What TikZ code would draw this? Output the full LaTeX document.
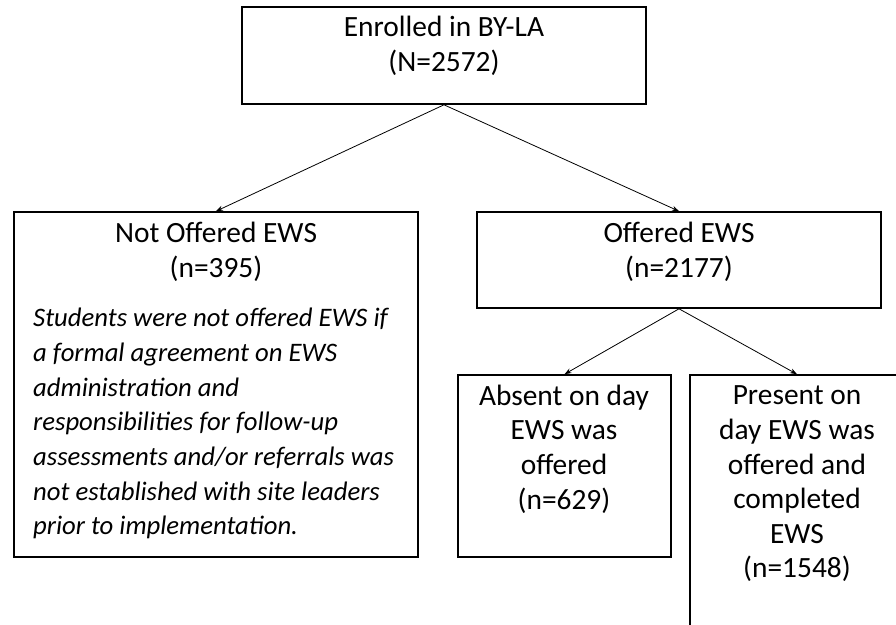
\documentclass[tikz,border=0pt]{standalone}
\usepackage{fontspec}
\setmainfont{Carlito}
\usetikzlibrary{arrows.meta}
\begin{document}
\begin{tikzpicture}[x=1pt,y=-1pt,
  box/.style={draw, line width=1.6pt, rectangle, inner sep=0pt},
  lbl/.style={align=center, font=\fontsize{29.4}{34.6}\selectfont, inner sep=0pt},
  desc/.style={align=left, font=\fontsize{26.7}{34.7}\selectfont\itshape, inner sep=0pt},
  conn/.style={-{Stealth[length=7pt,width=5pt]}, line width=0.8pt}]
\useasboundingbox (0,0) rectangle (896,624);
\clip (0,0) rectangle (896,624);
% boxes
\node[box, minimum width=404pt, minimum height=97pt] (top) at (444,55.5) {};
\node[box, minimum width=404pt, minimum height=345pt] (left) at (216,384.5) {};
\node[box, minimum width=404pt, minimum height=96pt] (off) at (679,260) {};
\node[box, minimum width=213pt, minimum height=182pt] (abs) at (564.5,466) {};
\node[box, minimum width=214pt, minimum height=340pt] (pres) at (797,545) {};
% texts
\node[lbl] (topt) at (444,46) {Enrolled in BY-LA\\(N=2572)};
\node[lbl] (leftt) at (216,252) {Not Offered EWS\\(n=395)};
\node[desc, anchor=north west] (leftd) at (33,308) {Students were not offered EWS if\\a formal agreement on EWS\\administration and\\responsibilities for follow-up\\assessments and/or referrals was\\not established with site leaders\\prior to implementation.};
\node[lbl] (offt) at (679,252) {Offered EWS\\(n=2177)};
\node[lbl] (abst) at (564,449) {Absent on day\\EWS was\\offered\\(n=629)};
\node[lbl] (prest) at (797,484) {Present on\\day EWS was\\offered and\\completed\\EWS\\(n=1548)};
% connectors
\draw[conn] (top.south) -- (left.north);
\draw[conn] (top.south) -- (off.north);
\draw[conn] (off.south) -- (abs.north);
\draw[conn] (off.south) -- (pres.north);
\end{tikzpicture}
\end{document}
